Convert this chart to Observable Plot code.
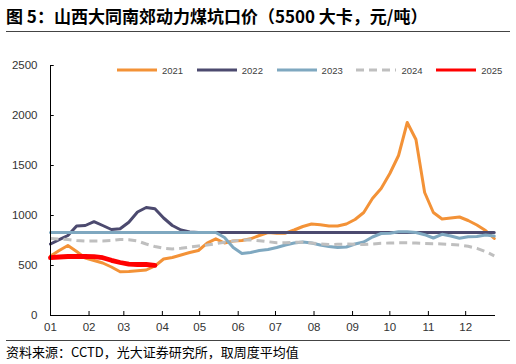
<!DOCTYPE html>
<html><head><meta charset="utf-8">
<script src="https://cdn.jsdelivr.net/npm/d3@7"></script>
<script src="https://cdn.jsdelivr.net/npm/@observablehq/plot@0.6"></script>
<style>
body{margin:0;width:516px;height:364px;position:relative;background:#fff;overflow:hidden;font-family:"Liberation Sans",Arial,sans-serif}
#title{position:absolute;left:6px;top:5px;font-weight:bold;font-size:17px;font-family:"Noto Sans CJK SC",sans-serif;color:#000;white-space:nowrap;line-height:22px}
.rule{position:absolute;left:6px;width:504px;height:1px;background:#444}
#chart{position:absolute;left:0;top:40px}
#legend{position:absolute;left:117px;top:64px;display:flex;height:12px;align-items:center}
.item{width:79.8px;display:flex;align-items:center;font-size:9.5px;color:#404040}
.item svg{margin-right:5px}
#source{position:absolute;left:6px;top:344px;font-size:13px;font-family:"Noto Sans CJK SC",sans-serif;color:#000;white-space:nowrap;line-height:15px;height:15px}
</style></head>
<body>
<div id="title">图 5：山西大同南郊动力煤坑口价（5500 大卡，元/吨）</div>
<div class="rule" style="top:31px"></div>
<div id="chart"></div>
<div id="legend"></div>
<div class="rule" style="top:340px"></div>
<div id="source">资料来源：CCTD，光大证券研究所，取周度平均值</div>
<script>
const tickDays = [0,31,59,90,120,151,181,212,243,273,304,334];
const tickLabels = ["01","02","03","04","05","06","07","08","09","10","11","12"];
const yTicks = [0,500,1000,1500,2000,2500];
const years = ["2021","2022","2023","2024","2025"];
const colors = ["#F39237","#4C4A6F","#7FA8C0","#BFBFBF","#FF0000"];
const widths = [3,3,3,3,4.8];
const dashes = [null,null,null,"8,5",null];

const v2021 = [595,650,700,640,575,550,525,485,437,440,447,455,495,565,580,605,630,650,723,767,725,745,750,767,800,830,823,823,855,890,915,907,895,895,915,960,1030,1170,1270,1420,1600,1930,1760,1230,1030,965,975,985,950,905,850,770];
const v2022 = [715,758,800,895,900,938,900,860,867,933,1035,1080,1068,975,900,855,835,830,830,830,830,830,830,830,830,830,830,830,830,830,830,830,830,830,830,830,830,830,830,830,830,830,830,830,830,830,830,830,830,830,830,830];
const v2023 = [830,830,830,830,830,830,830,830,830,830,830,830,830,830,830,830,830,830,830,830,780,680,620,630,650,660,680,705,725,735,725,705,690,680,685,715,735,785,820,823,838,838,830,808,775,812,795,773,788,790,805,795];
const v2024 = [770,765,760,750,745,745,745,750,760,758,745,715,690,672,665,672,685,695,705,718,732,745,755,757,748,738,727,728,732,733,725,715,710,712,715,712,710,715,722,725,727,727,725,720,718,715,710,705,692,672,640,597];
const v2025 = [578,585,590,592,590,588,578,552,530,513,510,510,502];
const series = [v2021,v2022,v2023,v2024,v2025];

const rows = series.map((vals, k) => vals.map((v, i) => ({year: years[k], day: i * 7, value: v})));

const lineMarks = rows.map((data, k) => Plot.line(data, {
  x: "day", y: "value", stroke: colors[k], strokeWidth: widths[k],
  strokeDasharray: dashes[k] ?? undefined, strokeLinejoin: "round", strokeLinecap: dashes[k] ? "butt" : "round"
}));

const chart = Plot.plot({
  width: 516, height: 300,
  marginLeft: 50, marginRight: 21, marginTop: 25, marginBottom: 25,
  style: {fontSize: "11.5px", fontFamily: "Liberation Sans, Arial, sans-serif", color: "#333", background: "transparent"},
  x: {domain: [0, 358], label: null},
  y: {domain: [0, 2500], label: null},
  marks: [
    ...lineMarks,
    Plot.ruleY(yTicks.slice(1), {y: d => d, x1: 0, x2: 3, stroke: "#000"}),
    Plot.ruleX(tickDays.slice(1), {x: d => d, y1: 0, y2: 40, stroke: "#000"}),
    Plot.ruleY([0], {stroke: "#000"}),
    Plot.ruleX([0], {stroke: "#000"}),
    Plot.axisY({ticks: yTicks, tickSize: 0, tickPadding: 13, label: null, tickFormat: d => String(d)}),
    Plot.axisX({ticks: tickDays, tickSize: 0, tickPadding: 7, label: null, tickFormat: d => tickLabels[tickDays.indexOf(d)]})
  ]
});
document.getElementById("chart").appendChild(chart);

const legend = document.getElementById("legend");
years.forEach((y, k) => {
  const item = document.createElement("div");
  item.className = "item";
  const dash = dashes[k] ? `stroke-dasharray="8,5"` : "";
  item.innerHTML = `<svg width="40" height="6"><line x1="0" y1="3" x2="40" y2="3" stroke="${colors[k]}" stroke-width="3" ${dash}/></svg><span>${y}</span>`;
  legend.appendChild(item);
});
</script>
</body></html>
